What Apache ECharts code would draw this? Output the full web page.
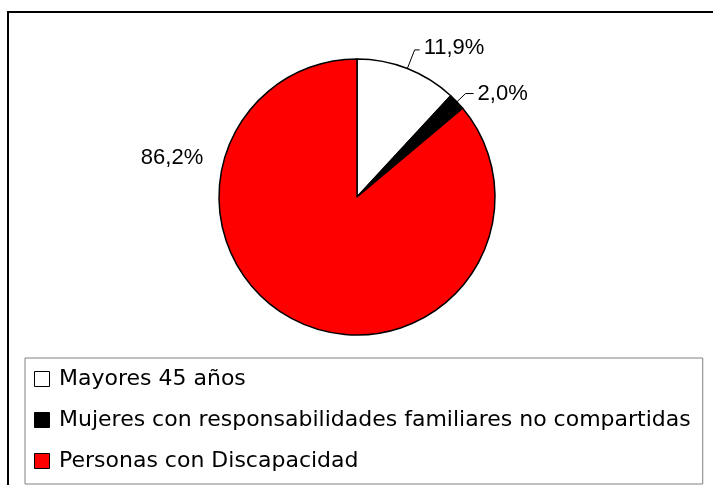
<!DOCTYPE html>
<html>
<head>
<meta charset="utf-8">
<script src="https://cdn.jsdelivr.net/npm/echarts@6/dist/echarts.min.js"></script>
<style>
  html, body { margin: 0; padding: 0; background: #fff; }
  #chart { width: 713px; height: 485px; }
</style>
</head>
<body>
<div id="chart"></div>
<script>
// categorias y porcentajes
var categories = ['Mayores 45 años', 'Mujeres con responsabilidades familiares no compartidas', 'Personas con Discapacidad'];
var shares = [11.9, 2.0, 86.2];
var sliceColors = ['#ffffff', '#000000', '#ff0000'];

var myChart = echarts.init(document.getElementById('chart'));

var lineLens = [[20, 5], [12, 8], null];

var data = categories.map(function (name, i) {
    var item = {
        name: name,
        value: shares[i],
        itemStyle: { color: sliceColors[i] }
    };
    if (lineLens[i]) {
        item.labelLine = { show: true, length: lineLens[i][0], length2: lineLens[i][1] };
    } else {
        item.labelLine = { show: false };
    }
    return item;
});

var option = {
    backgroundColor: '#ffffff',
    animation: false,
    graphic: [{
        type: 'rect',
        shape: { x: 8, y: 12, width: 720, height: 500 },
        style: { fill: 'none', stroke: '#000', lineWidth: 2 },
        silent: true
    }],
    legend: {
        orient: 'vertical',
        left: 25,
        top: 358,
        padding: [10, 12, 12, 9],
        itemGap: 19,
        itemWidth: 24,
        itemHeight: 15,
        icon: 'path://M0,0H10V10H0Z',
        symbolKeepAspect: true,
        borderColor: '#808080',
        borderWidth: 1,
        itemStyle: { borderColor: '#000', borderWidth: 1 },
        textStyle: {
            fontFamily: 'DejaVu Sans',
            fontSize: 22,
            color: '#000',
            lineHeight: 21
        },
        data: categories
    },
    series: [{
        type: 'pie',
        center: [357, 197],
        radius: 138,
        startAngle: 90,
        clockwise: true,
        avoidLabelOverlap: false,
        itemStyle: { borderColor: '#000', borderWidth: 1.5 },
        label: {
            show: true,
            position: 'outside',
            color: '#000',
            fontFamily: 'Liberation Sans',
            fontSize: 22,
            distanceToLabelLine: 4,
            formatter: function (p) {
                return p.value.toFixed(1).replace('.', ',') + '%';
            }
        },
        labelLine: {
            lineStyle: { color: '#000', width: 1 }
        },
        labelLayout: function (params) {
            if (params.dataIndex === 2) {
                return { x: 172, y: 158, align: 'center', verticalAlign: 'middle' };
            }
            if (params.dataIndex === 0) {
                return { dy: -2 };
            }
            return {};
        },
        emphasis: { disabled: true },
        data: data
    }]
};

myChart.setOption(option);
window.addEventListener('resize', function () {
    myChart.resize();
});
</script>
</body>
</html>
